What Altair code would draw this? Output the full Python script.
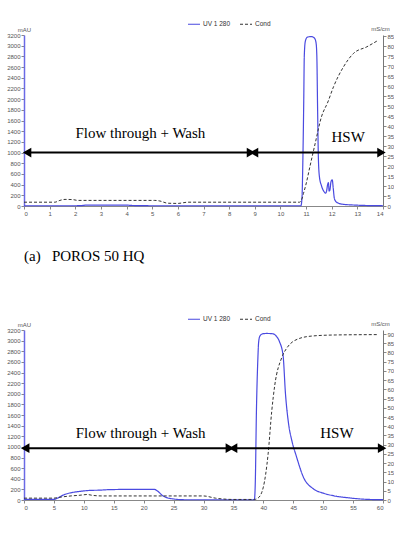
import altair as alt
import pandas as pd

BLUE = "#4a4ae0"
LABEL = "#555555"

# ---------- Panel (a): POROS 50 HQ ----------
a_t = [0, 1, 2, 2.3, 2.4, 4.0, 4.2, 5, 6, 7, 8, 9, 10, 10.8, 10.84, 10.88, 10.91, 10.93, 10.97,
       11.05, 11.2, 11.33, 11.39, 11.42, 11.45, 11.48, 11.52, 11.6, 11.7, 11.76, 11.8, 11.84,
       11.87, 11.9, 11.93, 11.97, 12.02, 12.06, 12.1, 12.15, 12.25, 12.4, 12.8, 13.3, 14.0]
a_uv = [5, 5, 5, 10, 16, 16, 10, 5, 5, 5, 5, 5, 5, 5, 150, 1000, 2000, 2800, 3080,
        3160, 3170, 3140, 3050, 2800, 1800, 900, 550, 380, 270, 240, 280, 400,
        440, 280, 300, 450, 490, 330, 150, 90, 55, 35, 20, 10, 5]
a_ct = [0, 1.2, 1.4, 1.6, 1.9, 2.1, 5.1, 5.3, 5.6, 6.0, 6.4, 10.75, 10.85, 10.9, 11.0, 11.15,
        11.35, 11.6, 11.85, 12.07, 12.46, 12.85, 13.37, 13.78]
a_cond = [1.9, 1.9, 2.8, 3.3, 3.2, 2.8, 2.8, 2.5, 1.4, 1.3, 1.9, 1.9, 4, 6.3, 11, 19.7,
          31, 44.6, 52, 59.6, 69.6, 76.3, 79.6, 82.6]
a_xticks = list(range(0, 15))
a_rticks = list(range(0, 90, 5))
a_arrow_x1 = [0.12, 8.97]
a_arrow_x2 = [8.85, 13.94]
a_arrow_y = [1000, 1000]
a_labels = ["Flow through + Wash", "HSW"]
a_label_x = [4.54, 12.64]
a_label_y = [1370, 1300]

# ---------- Panel (b) ----------
b_t = [0, 3, 5, 5.5, 6.7, 8, 9.2, 10.9, 12.5, 14.3, 18, 21.8, 22.3, 23.2, 24.9, 27, 30, 38.5,
       38.65, 38.85, 39.1, 39.2, 39.4, 39.8, 40.5, 41.5, 42.2, 42.7, 43.3, 43.7, 44.2, 44.8,
       45.5, 46.7, 48.4, 50, 51.7, 54.5, 57.3, 60]
b_uv = [12, 12, 12, 30, 100, 140, 160, 180, 185, 195, 200, 200, 170, 80, 20, 5, 5, 5,
        300, 1700, 2700, 2950, 3080, 3125, 3135, 3130, 3080, 2980, 2720, 2000, 1450, 1100,
        830, 430, 207, 130, 81, 38, 12, 6]
b_ct = [0, 5, 6, 7.5, 9.7, 10.5, 11.5, 13, 30, 32, 35, 38.5, 39.1, 40.0, 40.8, 41.4, 41.9,
        43.05, 43.9, 46.1, 48.4, 52, 59]
b_cond = [1, 1, 1.5, 2.1, 2.7, 3, 2.5, 2.2, 2.2, 1, 0.3, 0.3, 1, 7, 25, 48, 62,
          77, 82.3, 87.7, 89, 89.5, 89.7]
b_xticks = list(range(0, 65, 5))
b_rticks = list(range(0, 95, 5))
b_arrow_x1 = [0.2, 34.95]
b_arrow_x2 = [34.4, 59.85]
b_arrow_y = [975, 975]
b_labels = ["Flow through + Wash", "HSW"]
b_label_x = [19.5, 52.3]
b_label_y = [1257, 1257]

series = ["UV 1 280", "Cond"]
y_left_ticks = list(range(0, 3400, 200))


def panel(t, uv, ct, cond, xmax, xticks, rmax, rticks, ax1, ax2, ay, labels, lx, ly,
          height, caption=None):
    uv_df = pd.DataFrame({"t": t, "v": uv, "series": series[0]})
    cond_df = pd.DataFrame({"t": ct, "v": cond, "series": series[1]})
    arr_df = pd.DataFrame({"x1": ax1, "x2": ax2, "y": ay})
    heads_df = pd.DataFrame({
        "x": [ax1[0], ax2[0], ax1[1], ax2[1]],
        "y": [ay[0], ay[0], ay[1], ay[1]],
        "dir": ["L", "R", "L", "R"],
    })
    lab_df = pd.DataFrame({"x": lx, "y": ly, "text": labels})

    xscale = alt.Scale(domain=[0, xmax], nice=False, zero=False)
    xaxis = alt.Axis(values=xticks, title=None, grid=False, labelFontSize=6, format="d",
                     labelColor=LABEL, tickColor="#888", domainColor="#888",
                     tickSize=3, labelPadding=1, labelFont="Liberation Sans")

    def X(field):
        return alt.X(f"{field}:Q", scale=xscale, axis=xaxis)

    yscale_l = alt.Scale(domain=[0, 3200], nice=False)
    leg = dict(orient="none", legendX=163, legendY=-18, direction="horizontal", title=None,
               symbolType="stroke", symbolSize=144, symbolStrokeWidth=1.2,
               labelFontSize=6.5, labelFont="Liberation Sans", labelColor="#333",
               labelOffset=2, columnPadding=6)
    color = alt.Color("series:N", scale=alt.Scale(domain=series, range=[BLUE, "#333333"]),
                      legend=alt.Legend(**leg))
    dash = alt.StrokeDash("series:N",
                          scale=alt.Scale(domain=series, range=[[1, 0], [3, 2]]),
                          legend=alt.Legend(**leg))

    uv_line = alt.Chart(uv_df).mark_line(strokeWidth=1.2, interpolate="monotone").encode(
        x=X("t"),
        y=alt.Y("v:Q", scale=yscale_l,
                axis=alt.Axis(orient="left", values=y_left_ticks, title="mAU", grid=False,
                              format="d",
                              labelFontSize=6, labelColor=LABEL, tickColor="#888",
                              domainColor="#6a6ae6", domainWidth=1.5, tickSize=3,
                              labelPadding=1, labelFont="Liberation Sans",
                              titleAngle=0, titleX=0, titleY=-3, titleAlign="center",
                              titleBaseline="bottom", titleFontSize=6,
                              titleFontWeight="normal", titleColor=LABEL,
                              titleFont="Liberation Sans")),
        color=color, strokeDash=dash,
    )
    cond_line = alt.Chart(cond_df).mark_line(strokeWidth=1, interpolate="monotone").encode(
        x=X("t"),
        y=alt.Y("v:Q", scale=alt.Scale(domain=[0, rmax], nice=False),
                axis=alt.Axis(orient="right", values=rticks, title="mS/cm", grid=False,
                              format="d",
                              labelFontSize=6, labelColor=LABEL, tickColor="#888",
                              domainColor="#777", tickSize=3, labelPadding=1,
                              labelFont="Liberation Sans",
                              titleAngle=0, titleX=-3, titleY=-4, titleAlign="center",
                              titleBaseline="bottom", titleFontSize=6,
                              titleFontWeight="normal", titleColor=LABEL,
                              titleFont="Liberation Sans")),
        color=color, strokeDash=dash,
    )
    arrows = alt.Chart(arr_df).mark_rule(color="black", strokeWidth=2).encode(
        x=X("x1"), x2="x2:Q",
        y=alt.Y("y:Q", scale=yscale_l, axis=None),
    )
    heads = alt.Chart(heads_df).mark_point(filled=True, color="black", opacity=1, size=95).encode(
        x=X("x"),
        y=alt.Y("y:Q", scale=yscale_l, axis=None),
        shape=alt.Shape("dir:N", scale=alt.Scale(domain=["L", "R"],
                                                 range=["triangle-left", "triangle-right"]),
                        legend=None),
    )
    texts = alt.Chart(lab_df).mark_text(font="Liberation Serif", fontSize=15, color="black",
                                        baseline="middle", align="center").encode(
        x=X("x"),
        y=alt.Y("y:Q", scale=yscale_l, axis=None),
        text="text:N",
    )
    layer = alt.layer(uv_line, cond_line, arrows, heads, texts).resolve_scale(y="independent")
    props = dict(width=359, height=height)
    if caption:
        props["title"] = alt.TitleParams(caption, orient="bottom", anchor="start",
                                         font="Liberation Serif", fontSize=15,
                                         fontWeight="normal", color="black", offset=33,
                                         frame="group")
    return layer.properties(**props)


p1 = panel(a_t, a_uv, a_ct, a_cond, 14, a_xticks, 85.5, a_rticks, a_arrow_x1, a_arrow_x2,
           a_arrow_y, a_labels, a_label_x, a_label_y, 171,
           caption="(a)\u00a0\u00a0\u00a0POROS 50 HQ")
p2 = panel(b_t, b_uv, b_ct, b_cond, 60, b_xticks, 92.2, b_rticks, b_arrow_x1, b_arrow_x2,
           b_arrow_y, b_labels, b_label_x, b_label_y, 170)

chart = alt.vconcat(p1, p2, spacing=48).resolve_scale(
    color="independent", strokeDash="independent", shape="independent"
).properties(
    padding={"left": 6, "top": 17, "right": 0, "bottom": 0},
    background="white",
).configure_view(stroke=None)

chart.save("out.html", embed_options={"renderer": "svg", "actions": False})
